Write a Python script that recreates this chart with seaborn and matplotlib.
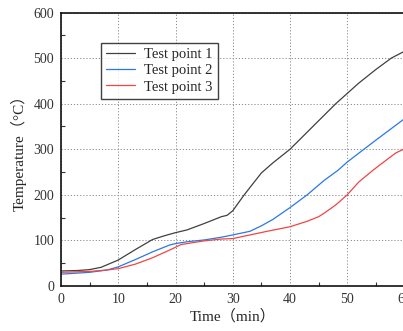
import numpy as np
import pandas as pd
import seaborn as sns
import matplotlib
matplotlib.use("Agg")
import matplotlib.pyplot as plt
from matplotlib.ticker import MultipleLocator

sns.set_theme(style="ticks")
plt.rcParams['font.family'] = ['Liberation Serif', 'Noto Sans CJK SC']
plt.rcParams['mathtext.fontset'] = 'stix'

t1 = [0, 3, 5, 7, 10, 13, 16, 18, 20, 22, 25, 28, 29, 30, 32, 35, 37, 40, 44, 48, 52, 55, 57.7, 60]
v1 = [33, 34, 36, 41, 57, 80, 102, 110, 117, 123, 137, 152, 155, 165, 200, 248, 270, 300, 350, 400, 445, 475, 500, 515]
t2 = [0, 5, 8, 10, 13, 16, 19, 20, 22, 25, 28, 30, 33, 35, 37, 40, 43, 46, 48.4, 50, 55, 60]
v2 = [26, 30, 35, 42, 58, 75, 90, 93, 97, 101, 107, 112, 120, 132, 146, 172, 200, 232, 254, 272, 320, 367]
t3 = [0, 5, 8, 10, 13, 16, 19, 21, 23, 25, 28, 30, 33, 36, 40, 43, 45, 46, 48, 50, 52, 54.5, 57, 58.5, 60]
v3 = [30, 32, 35, 38, 48, 62, 79, 91, 95, 99, 103, 104, 112, 120, 130, 142, 152, 160, 178, 200, 228, 254, 278, 292, 301]
labels = ["Test point 1", "Test point 2", "Test point 3"]
colors = ["#404040", "#2a78e4", "#f04545"]

frames = []
for t, v, lab in zip([t1, t2, t3], [v1, v2, v3], labels):
    frames.append(pd.DataFrame({"t": t, "v": v, "s": lab}))
df = pd.concat(frames)

fig = plt.figure(figsize=(4.03, 3.31), dpi=100)
ax = fig.add_axes([61/403, (331-286)/331, (404.5-61)/403, (286-12.5)/331])
sns.lineplot(data=df, x="t", y="v", hue="s", palette=colors, ax=ax,
             linewidth=0.9, sort=False, estimator=None)

ax.set_xlim(0, 60)
ax.set_ylim(0, 600)
ax.xaxis.set_major_locator(MultipleLocator(10))
ax.xaxis.set_minor_locator(MultipleLocator(5))
ax.yaxis.set_major_locator(MultipleLocator(100))
ax.yaxis.set_minor_locator(MultipleLocator(50))
ax.tick_params(which='both', direction='in', labelsize=10, colors='#333333', width=0.8)
ax.tick_params(which='major', length=0, pad=5)
ax.tick_params(which='minor', length=3)
ax.grid(True, which='major', linestyle=(0, (1.2, 2)), color='#8a8a8a', linewidth=0.7)
for s in ax.spines.values():
    s.set_linewidth(1.2)
    s.set_color('#111111')
ax.set_xlabel("Time（min）", fontsize=11, labelpad=2)
ax.set_ylabel("Temperature（°C）", fontsize=11, labelpad=5)

leg = ax.legend(loc='upper left', bbox_to_anchor=((101-61)/343.5, (286-43)/273.5),
                frameon=True, fancybox=False, fontsize=10.5, handlelength=2.0,
                borderpad=0.35, labelspacing=0.2, handletextpad=0.6, borderaxespad=0)
leg.get_frame().set_edgecolor('#111111')
leg.get_frame().set_linewidth(1.0)
ax.set_axisbelow(True)

fig.savefig("out.png", dpi=100)
